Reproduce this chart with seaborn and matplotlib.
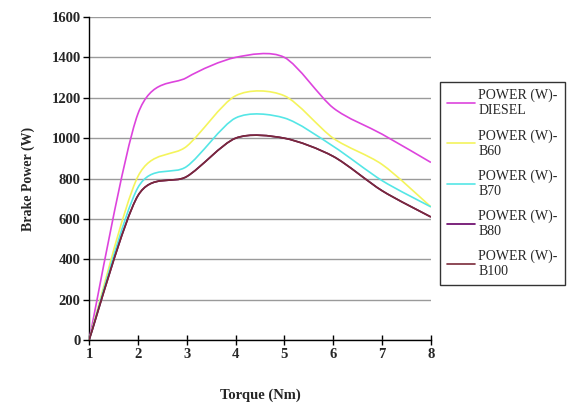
import numpy as np
import matplotlib
matplotlib.use('Agg')
import matplotlib.pyplot as plt
from matplotlib.path import Path
from matplotlib.patches import PathPatch
from matplotlib.lines import Line2D
import seaborn as sns

# data
torque = [1, 2, 3, 4, 5, 6, 7, 8]
diesel = [0, 1120, 1300, 1400, 1400, 1150, 1020, 880]
b60 = [0, 810, 960, 1210, 1210, 1000, 870, 660]
b70 = [0, 755, 860, 1100, 1100, 960, 790, 660]
b80 = [0, 715, 810, 1000, 1000, 910, 740, 610]
b100 = [0, 715, 810, 1000, 1000, 910, 740, 610]

labels = ['POWER (W)-\nDIESEL', 'POWER (W)-\nB60', 'POWER (W)-\nB70',
          'POWER (W)-\nB80', 'POWER (W)-\nB100']
colors = ['#DD44DD', '#F4F45C', '#55E6E6', '#660066', '#7A2A3A']
series = [diesel, b60, b70, b80, b100]

sns.set_style('white')
plt.rcParams['font.family'] = ['Liberation Serif', 'DejaVu Serif']


def smooth_path(x, y, t=0.14):
    # excel style smoothed line: cubic bezier through the points
    x = np.asarray(x, float)
    y = np.asarray(y, float)
    verts = [(x[0], y[0])]
    codes = [Path.MOVETO]
    n = len(x)
    for i in range(n - 1):
        x0, y0 = (x[i - 1], y[i - 1]) if i > 0 else (x[i], y[i])
        x3, y3 = (x[i + 2], y[i + 2]) if i + 2 < n else (x[i + 1], y[i + 1])
        c1 = (x[i] + (x[i + 1] - x0) * t, y[i] + (y[i + 1] - y0) * t)
        c2 = (x[i + 1] - (x3 - x[i]) * t, y[i + 1] - (y3 - y[i]) * t)
        verts += [c1, c2, (x[i + 1], y[i + 1])]
        codes += [Path.CURVE4] * 3
    return Path(verts, codes)


fig = plt.figure(figsize=(5.67, 4.05), dpi=100)
ax = fig.add_axes([0.157, 0.160, 0.603, 0.798])

for ys, c in zip(series, colors):
    ax.add_patch(PathPatch(smooth_path(torque, ys), facecolor='none',
                           edgecolor=c, lw=1.2, zorder=3))

ax.set_xlim(1, 8)
ax.set_ylim(0, 1600)
ax.set_xticks(torque)
ax.set_yticks(range(0, 1601, 200))
ax.yaxis.grid(True, color='#9a9a9a', lw=1)
ax.xaxis.grid(False)
sns.despine(ax=ax)
for s in ['left', 'bottom']:
    ax.spines[s].set_color('black')
    ax.spines[s].set_linewidth(1)
ax.tick_params(axis='x', direction='inout', length=7, width=1, color='black',
               labelsize=10.5, pad=2, bottom=True)
ax.tick_params(axis='y', direction='out', length=4, width=1, color='black',
               labelsize=10.5, pad=2, left=True)
for lab in ax.get_xticklabels() + ax.get_yticklabels():
    lab.set_fontweight('bold')

ax.set_xlabel('Torque (Nm)', fontsize=10.5, fontweight='bold', labelpad=20)
ax.set_ylabel('Brake Power (W)', fontsize=10, fontweight='bold', labelpad=12)

handles = [Line2D([], [], color=c, lw=1.2) for c in colors]
leg = fig.legend(handles, labels, loc='upper left', bbox_to_anchor=(0.776, 0.798),
                 frameon=True, fancybox=False, edgecolor='black', fontsize=10,
                 handlelength=2.0, labelspacing=0.85, borderpad=0.5,
                 handletextpad=0.25, borderaxespad=0)
leg.get_frame().set_linewidth(1)

plt.savefig('out.png', dpi=100)
